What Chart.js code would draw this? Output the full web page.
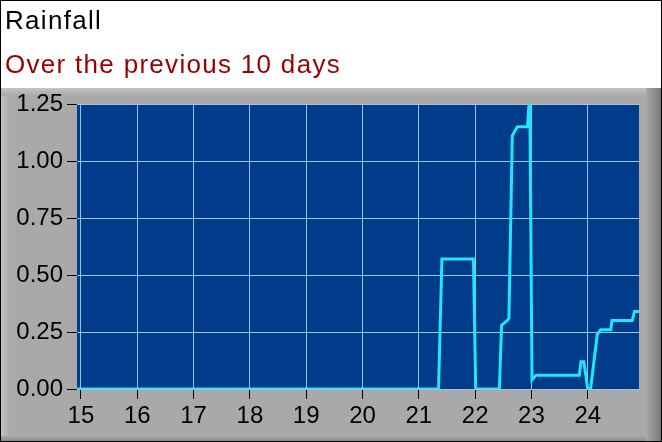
<!DOCTYPE html>
<html lang="en">
    <head>
        <script src="https://cdn.jsdelivr.net/npm/chart.js"></script>
        <style>
            body { margin: 0; background: #fff; }
        </style>
    </head>
    <body>
        <canvas id="myChart" width="662" height="442"></canvas>
        <script>
            // day of month (fractional) and rainfall over previous 10 days
            const days = [14.93, 21.35, 21.41, 21.97, 22.01, 22.43, 22.47, 22.57, 22.6, 22.66, 22.7, 22.75, 22.93, 22.97, 23.01, 23.08, 23.85, 23.88, 23.93, 24.0, 24.05, 24.17, 24.23, 24.41, 24.43, 24.79, 24.83, 24.91]
            const rain = [0, 0, 0.57, 0.57, 0, 0, 0.28, 0.3, 0.31, 1.11, 1.13, 1.15, 1.15, 1.3, 0.04, 0.06, 0.06, 0.12, 0.12, 0, 0, 0.24, 0.26, 0.26, 0.3, 0.3, 0.34, 0.34]
            const yTicks = [0, 0.25, 0.5, 0.75, 1, 1.25]
            const xTicks = [15, 16, 17, 18, 19, 20, 21, 22, 23, 24]
            const title = "Rainfall"
            const subtitle = "Over the previous 10 days"

            const font = "'Liberation Sans', Arial, sans-serif"

            // white header with titles, grey bevelled panel and dark blue plot area
            const panel = {
                id: "panel",
                beforeDraw(chart) {
                    const c = chart.ctx
                    const w = chart.width
                    const h = chart.height
                    const a = chart.chartArea
                    c.save()
                    c.fillStyle = "#fff"
                    c.fillRect(0, 0, w, h)
                    c.fillStyle = "#a9a9a9"
                    c.fillRect(1, 88, w - 2, h - 89)
                    let g = c.createLinearGradient(w - 16, 0, w - 1, 0)
                    g.addColorStop(0, "#a9a9a9")
                    g.addColorStop(1, "#7a7a7a")
                    c.fillStyle = g
                    c.fillRect(w - 16, 88, 15, h - 89)
                    g = c.createLinearGradient(0, 88, 0, 96)
                    g.addColorStop(0, "#c4c4c4")
                    g.addColorStop(1, "#a9a9a9")
                    c.fillStyle = g
                    c.fillRect(1, 88, w - 17, 8)
                    g = c.createLinearGradient(1, 0, 10, 0)
                    g.addColorStop(0, "#c0c0c0")
                    g.addColorStop(1, "#a9a9a9")
                    c.fillStyle = g
                    c.fillRect(1, 96, 9, h - 97)
                    g = c.createLinearGradient(0, h - 6, 0, h - 1)
                    g.addColorStop(0, "#a9a9a9")
                    g.addColorStop(1, "#8a8a8a")
                    c.fillStyle = g
                    c.fillRect(1, h - 6, w - 17, 5)
                    c.strokeStyle = "#000"
                    c.lineWidth = 1
                    c.strokeRect(0.5, 0.5, w - 1, h - 1)
                    c.fillStyle = "#003c8a"
                    c.fillRect(a.left, a.top, a.right - a.left, a.bottom - a.top)

                    c.font = "26px " + font
                    c.letterSpacing = "1.3px"
                    c.textAlign = "left"
                    c.textBaseline = "alphabetic"
                    c.fillStyle = "#000"
                    c.fillText(title, 5, 29)
                    c.fillStyle = "#990000"
                    c.fillText(subtitle, 5, 73)
                    c.restore()
                },
            }

            const ctx = document.getElementById("myChart")
            new Chart(ctx, {
                type: "line",
                data: {
                    datasets: [
                        {
                            label: "Rainfall",
                            data: days.map((d, i) => ({ x: d, y: rain[i] })),
                            borderColor: "#1fe6fa",
                            borderWidth: 3,
                            pointRadius: 0,
                            tension: 0,
                            fill: false,
                        },
                    ],
                },
                options: {
                    responsive: false,
                    animation: false,
                    layout: { padding: { left: 0, right: 23, top: 104, bottom: 0 } },
                    plugins: {
                        legend: { display: false },
                        tooltip: { enabled: false },
                    },
                    scales: {
                        x: {
                            type: "linear",
                            min: 14.93,
                            max: 24.91,
                            afterFit(scale) { scale.height = 53 },
                            afterBuildTicks(scale) { scale.ticks = xTicks.map((v) => ({ value: v })) },
                            ticks: {
                                color: "#000",
                                font: { family: font, size: 24 },
                                padding: 3,
                                maxRotation: 0,
                                autoSkip: false,
                            },
                            grid: { color: "#9cc3ee", tickColor: "#000", tickLength: 10 },
                            border: { display: false },
                        },
                        y: {
                            min: 0,
                            max: 1.25,
                            afterFit(scale) { scale.width = 77 },
                            afterBuildTicks(scale) { scale.ticks = yTicks.map((v) => ({ value: v })) },
                            ticks: {
                                color: "#000",
                                font: { family: font, size: 24 },
                                padding: 4,
                                callback: (v) => v.toFixed(2),
                            },
                            grid: { color: "#9cc3ee", tickColor: "#000", tickLength: 10 },
                            border: { display: false },
                        },
                    },
                },
                plugins: [panel],
            })
        </script>
    </body>
</html>
